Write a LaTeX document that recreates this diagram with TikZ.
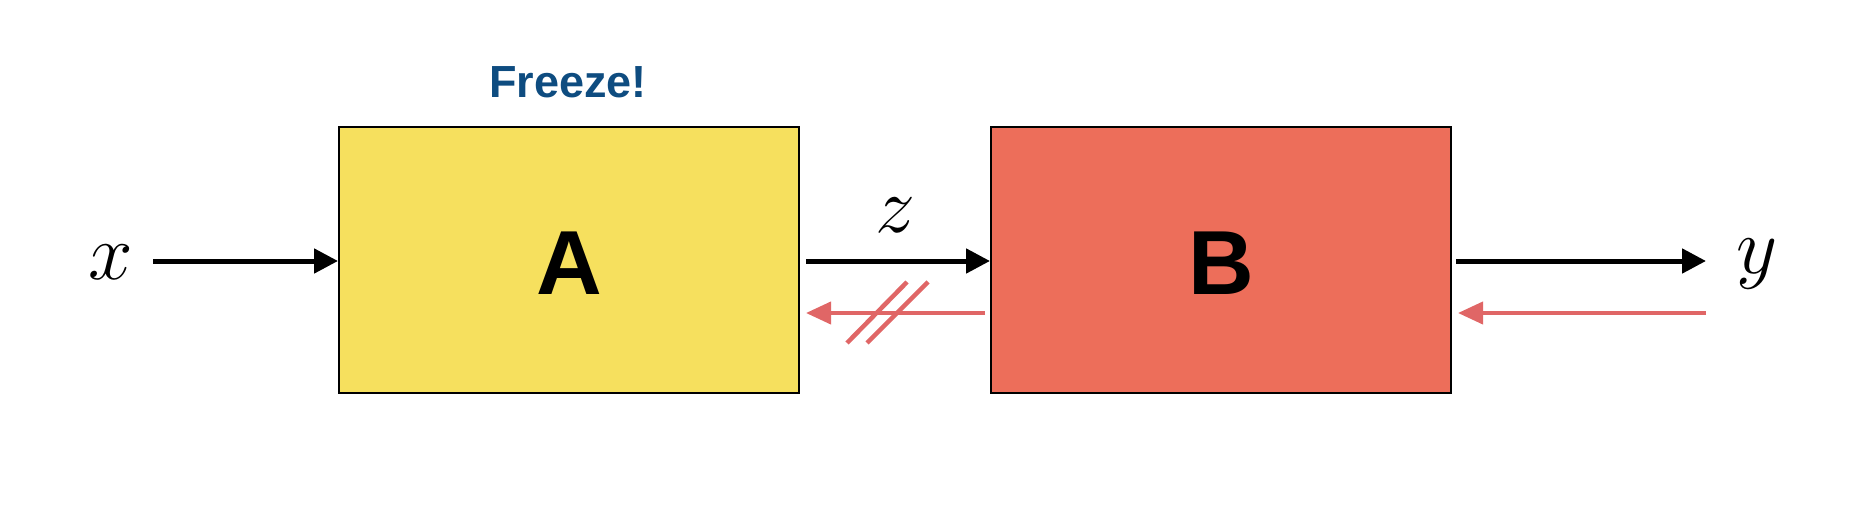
\RequirePackage{fix-cm}
\documentclass[tikz,border=0pt]{standalone}
\usepackage{fontspec}
\setmainfont{Liberation Serif}
\newfontfamily\boldsans{Liberation Sans}
\usetikzlibrary{arrows.meta}
\definecolor{boxA}{HTML}{F6E05E}
\definecolor{boxB}{HTML}{ED6E5A}
\definecolor{backred}{HTML}{E06666}
\definecolor{freezeblue}{HTML}{0E4C80}
\begin{document}
\begin{tikzpicture}[x=1pt,y=-1pt,
  blockbox/.style={draw=black,line width=2pt,minimum width=460pt,minimum height=266pt,inner sep=0pt},
  fwd/.style={line width=5pt,draw=black,-{Triangle[length=24pt,width=24pt]}},
  back/.style={line width=4pt,draw=backred,-{Triangle[length=25pt,width=22pt]}},
  slash/.style={line width=4.5pt,draw=backred},
  var/.style={font=\fontsize{80}{90}\selectfont,inner sep=0pt,anchor=base},
  blocklabel/.style={font=\boldsans\bfseries\fontsize{91}{100}\selectfont,inner sep=0pt,anchor=base}
]
\useasboundingbox (0,0) rectangle (1868,516);
\fill[white] (0,0) rectangle (1868,516);
\node[blockbox,fill=boxA] (A) at (569,260) {};
\node[blockbox,fill=boxB] (B) at (1221,260) {};
\node[blocklabel] (Alab) at (569,294) {A};
\node[blocklabel] (Blab) at (1221,294) {B};
\node[font=\boldsans\bfseries\fontsize{45}{50}\selectfont,text=freezeblue,inner sep=0pt,anchor=base] (freeze) at (568,98) {Freeze!};
\node[var] (xl) at (111,279) {$x$};
\node[var] (zl) at (895,232) {$z$};
\node[var] (yl) at (1757,273) {$y$};
\coordinate (xs) at (153,261);
\coordinate (ys) at (1706,261);
\coordinate (yb) at (1706,313);
% forward arrows
\draw[fwd] (xs) -- (A.west |- xs);
\draw[fwd] (A.east |- xs) ++(6,0) coordinate (ae) -- (B.west |- ae);
\draw[fwd] (B.east |- xs) ++(4,0) coordinate (be) -- (ys);
% backward arrows
\draw[back] (B.west |- yb) ++(-5,0) coordinate (bw) -- ([xshift=6pt]A.east |- yb);
\draw[back] (yb) -- ([xshift=6pt]B.east |- yb);
% break marks
\draw[slash] (847,343) -- (907,282);
\draw[slash] (867,343) -- (928,282);
\end{tikzpicture}
\end{document}
